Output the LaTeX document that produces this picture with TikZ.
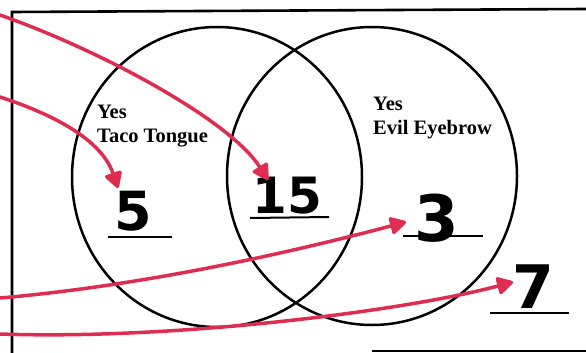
\documentclass[tikz,border=0pt]{standalone}
\usepackage{fontspec}
\setmainfont{Liberation Serif}
\newfontfamily\handfont{DejaVu Sans}
\usetikzlibrary{arrows.meta}
\definecolor{pen}{RGB}{222,45,80}
\tikzset{
  x=1pt,y=-1pt,
  frameline/.style={line width=2.6pt,black},
  ring/.style={line width=2.5pt,black},
  uline/.style={line width=2pt,black},
  label/.style={inner sep=0pt,anchor=north west,align=left,font=\fontsize{20.5}{23.5}\selectfont\bfseries},
  num/.style={inner sep=0pt,anchor=base,font=\handfont\bfseries\fontsize{#1}{#1}\selectfont},
  redarrow/.style={line width=3.5pt,pen,line cap=round,-{Triangle[length=18pt,width=19pt,round]}},
}
\begin{document}
\begin{tikzpicture}
\useasboundingbox (0,0) rectangle (586,353);
% frame
\draw[frameline] (586,9) -- (12,12) -- (12,353);
\draw[frameline] (372,351) -- (586,351);
% circles
\draw[ring] (217,177) ellipse [x radius=145, y radius=150];
\draw[ring] (372,176) ellipse [x radius=145, y radius=149];
% labels
\node[label] (lt) at (97,105) {Yes\\Taco Tongue};
\node[label] (lr) at (373,97) {Yes\\Evil Eyebrow};
% numbers
\node[num=54] (n5) at (133,230) {5};
\node[num=50] (n15) at (287,213) {15};
\node[num=64] (n3) at (437,241) {3};
\node[num=60] (n7) at (533,308) {7};
% underlines
\draw[uline] (108,237) -- (172,237);
\draw[uline] (250,218) -- (329,217);
\draw[uline] (403,236) -- (483,236);
\draw[uline] (490,313) -- (569,313);
% arrow ends
\coordinate (s1) at (0,15);
\coordinate (t1) at (268,180);
\coordinate (s2) at (0,97);
\coordinate (t2) at (118,188);
\coordinate (s3) at (0,298);
\coordinate (t3) at (406,222);
\coordinate (s4) at (0,334);
\coordinate (t4) at (513,282);
\draw[redarrow] (s1) .. controls (100,50) and (230,120) .. (t1);
\draw[redarrow] (s2) .. controls (40,110) and (100,135) .. (t2);
\draw[redarrow] (s3) .. controls (150,285) and (300,250) .. (t3);
\draw[redarrow] (s4) .. controls (170,340) and (400,312) .. (t4);
\end{tikzpicture}
\end{document}
